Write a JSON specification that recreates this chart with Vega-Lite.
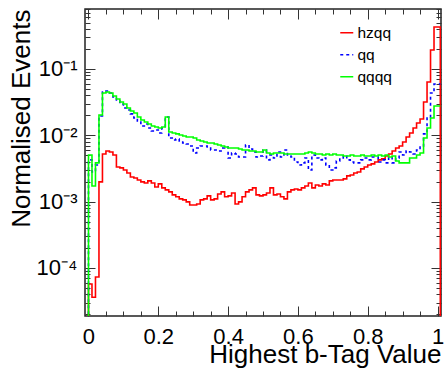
{
  "$schema": "https://vega.github.io/schema/vega-lite/v6.json",
  "width": 356,
  "height": 307,
  "autosize": {"type": "none"},
  "padding": {"left": 85, "top": 9, "right": 4, "bottom": 61},
  "background": "white",
  "data": {
    "values": [
      {"x": -0.01, "hzqq": 1e-7, "qq": 1e-7, "qqqq": 1e-7},
      {"x": 0.00, "hzqq": 5.7e-5, "qq": 0.00425, "qqqq": 0.00505},
      {"x": 0.01, "hzqq": 3.6e-5, "qq": 0.0028, "qqqq": 0.00172},
      {"x": 0.02, "hzqq": 7.3e-5, "qq": 0.00357, "qqqq": 0.00383},
      {"x": 0.03, "hzqq": 0.00198, "qq": 0.0195, "qqqq": 0.0202},
      {"x": 0.04, "hzqq": 0.00523, "qq": 0.045, "qqqq": 0.0435},
      {"x": 0.05, "hzqq": 0.0058, "qq": 0.0466, "qqqq": 0.045},
      {"x": 0.06, "hzqq": 0.0056, "qq": 0.0435, "qqqq": 0.0435},
      {"x": 0.07, "hzqq": 0.00505, "qq": 0.0378, "qqqq": 0.0392},
      {"x": 0.08, "hzqq": 0.00333, "qq": 0.0341, "qqqq": 0.0353},
      {"x": 0.09, "hzqq": 0.00322, "qq": 0.0297, "qqqq": 0.0318},
      {"x": 0.10, "hzqq": 0.003, "qq": 0.0258, "qqqq": 0.0297},
      {"x": 0.11, "hzqq": 0.0027, "qq": 0.0241, "qqqq": 0.0258},
      {"x": 0.12, "hzqq": 0.00235, "qq": 0.021, "qqqq": 0.0233},
      {"x": 0.13, "hzqq": 0.00227, "qq": 0.0182, "qqqq": 0.0217},
      {"x": 0.14, "hzqq": 0.00212, "qq": 0.0164, "qqqq": 0.0189},
      {"x": 0.15, "hzqq": 0.00198, "qq": 0.0138, "qqqq": 0.017},
      {"x": 0.16, "hzqq": 0.00191, "qq": 0.0148, "qqqq": 0.0159},
      {"x": 0.17, "hzqq": 0.00205, "qq": 0.0129, "qqqq": 0.0148},
      {"x": 0.18, "hzqq": 0.00191, "qq": 0.0116, "qqqq": 0.0138},
      {"x": 0.19, "hzqq": 0.00166, "qq": 0.012, "qqqq": 0.0133},
      {"x": 0.20, "hzqq": 0.00185, "qq": 0.0108, "qqqq": 0.0129},
      {"x": 0.21, "hzqq": 0.00161, "qq": 0.0129, "qqqq": 0.0133},
      {"x": 0.22, "hzqq": 0.0015, "qq": 0.0189, "qqqq": 0.0189},
      {"x": 0.23, "hzqq": 0.0014, "qq": 0.0091, "qqqq": 0.0112},
      {"x": 0.24, "hzqq": 0.00126, "qq": 0.00849, "qqqq": 0.0108},
      {"x": 0.25, "hzqq": 0.00118, "qq": 0.00879, "qqqq": 0.0105},
      {"x": 0.26, "hzqq": 0.0011, "qq": 0.0082, "qqqq": 0.0101},
      {"x": 0.27, "hzqq": 0.00106, "qq": 0.00765, "qqqq": 0.00976},
      {"x": 0.28, "hzqq": 0.00099, "qq": 0.00739, "qqqq": 0.00942},
      {"x": 0.29, "hzqq": 0.00089, "qq": 0.0069, "qqqq": 0.00942},
      {"x": 0.30, "hzqq": 0.00089, "qq": 0.00541, "qqqq": 0.0091},
      {"x": 0.31, "hzqq": 0.00092, "qq": 0.00643, "qqqq": 0.00849},
      {"x": 0.32, "hzqq": 0.00106, "qq": 0.0069, "qqqq": 0.0082},
      {"x": 0.33, "hzqq": 0.0011, "qq": 0.0069, "qqqq": 0.00792},
      {"x": 0.34, "hzqq": 0.00122, "qq": 0.00666, "qqqq": 0.00765},
      {"x": 0.35, "hzqq": 0.00106, "qq": 0.006, "qqqq": 0.00765},
      {"x": 0.36, "hzqq": 0.0011, "qq": 0.006, "qqqq": 0.00739},
      {"x": 0.37, "hzqq": 0.0013, "qq": 0.0058, "qqqq": 0.00714},
      {"x": 0.38, "hzqq": 0.0014, "qq": 0.00643, "qqqq": 0.0069},
      {"x": 0.39, "hzqq": 0.00118, "qq": 0.00666, "qqqq": 0.00666},
      {"x": 0.40, "hzqq": 0.00122, "qq": 0.00455, "qqqq": 0.00643},
      {"x": 0.41, "hzqq": 0.00135, "qq": 0.00541, "qqqq": 0.00643},
      {"x": 0.42, "hzqq": 0.00092, "qq": 0.00523, "qqqq": 0.00643},
      {"x": 0.43, "hzqq": 0.00099, "qq": 0.00471, "qqqq": 0.00621},
      {"x": 0.44, "hzqq": 0.00118, "qq": 0.00471, "qqqq": 0.006},
      {"x": 0.45, "hzqq": 0.0014, "qq": 0.00714, "qqqq": 0.006},
      {"x": 0.46, "hzqq": 0.0015, "qq": 0.00621, "qqqq": 0.0058},
      {"x": 0.47, "hzqq": 0.00161, "qq": 0.0056, "qqqq": 0.0058},
      {"x": 0.48, "hzqq": 0.00126, "qq": 0.00471, "qqqq": 0.0056},
      {"x": 0.49, "hzqq": 0.00122, "qq": 0.00488, "qqqq": 0.0056},
      {"x": 0.50, "hzqq": 0.00126, "qq": 0.006, "qqqq": 0.006},
      {"x": 0.51, "hzqq": 0.00135, "qq": 0.00425, "qqqq": 0.00541},
      {"x": 0.52, "hzqq": 0.00161, "qq": 0.00505, "qqqq": 0.00523},
      {"x": 0.53, "hzqq": 0.00126, "qq": 0.00455, "qqqq": 0.00541},
      {"x": 0.54, "hzqq": 0.0013, "qq": 0.0056, "qqqq": 0.00541},
      {"x": 0.55, "hzqq": 0.00118, "qq": 0.00471, "qqqq": 0.00541},
      {"x": 0.56, "hzqq": 0.0011, "qq": 0.006, "qqqq": 0.00523},
      {"x": 0.57, "hzqq": 0.0014, "qq": 0.00488, "qqqq": 0.00523},
      {"x": 0.58, "hzqq": 0.0015, "qq": 0.00471, "qqqq": 0.00523},
      {"x": 0.59, "hzqq": 0.00155, "qq": 0.00396, "qqqq": 0.00523},
      {"x": 0.60, "hzqq": 0.0015, "qq": 0.00357, "qqqq": 0.00523},
      {"x": 0.61, "hzqq": 0.00161, "qq": 0.00383, "qqqq": 0.00523},
      {"x": 0.62, "hzqq": 0.00172, "qq": 0.00455, "qqqq": 0.00541},
      {"x": 0.63, "hzqq": 0.00191, "qq": 0.003, "qqqq": 0.0056},
      {"x": 0.64, "hzqq": 0.00161, "qq": 0.00505, "qqqq": 0.00541},
      {"x": 0.65, "hzqq": 0.00178, "qq": 0.00455, "qqqq": 0.00523},
      {"x": 0.66, "hzqq": 0.00172, "qq": 0.00425, "qqqq": 0.00523},
      {"x": 0.67, "hzqq": 0.00185, "qq": 0.00455, "qqqq": 0.00505},
      {"x": 0.68, "hzqq": 0.00178, "qq": 0.00357, "qqqq": 0.00523},
      {"x": 0.69, "hzqq": 0.00205, "qq": 0.003, "qqqq": 0.00505},
      {"x": 0.70, "hzqq": 0.00212, "qq": 0.00322, "qqqq": 0.00523},
      {"x": 0.71, "hzqq": 0.00212, "qq": 0.0041, "qqqq": 0.00505},
      {"x": 0.72, "hzqq": 0.00212, "qq": 0.00455, "qqqq": 0.00505},
      {"x": 0.73, "hzqq": 0.0022, "qq": 0.00488, "qqqq": 0.00488},
      {"x": 0.74, "hzqq": 0.00244, "qq": 0.00425, "qqqq": 0.00488},
      {"x": 0.75, "hzqq": 0.00252, "qq": 0.00396, "qqqq": 0.00505},
      {"x": 0.76, "hzqq": 0.0027, "qq": 0.00383, "qqqq": 0.00488},
      {"x": 0.77, "hzqq": 0.0028, "qq": 0.00383, "qqqq": 0.00488},
      {"x": 0.78, "hzqq": 0.00311, "qq": 0.00425, "qqqq": 0.00505},
      {"x": 0.79, "hzqq": 0.00333, "qq": 0.00455, "qqqq": 0.00488},
      {"x": 0.80, "hzqq": 0.00357, "qq": 0.00425, "qqqq": 0.00488},
      {"x": 0.81, "hzqq": 0.0037, "qq": 0.00471, "qqqq": 0.00505},
      {"x": 0.82, "hzqq": 0.00396, "qq": 0.00471, "qqqq": 0.00488},
      {"x": 0.83, "hzqq": 0.00425, "qq": 0.00396, "qqqq": 0.00505},
      {"x": 0.84, "hzqq": 0.0044, "qq": 0.00425, "qqqq": 0.00488},
      {"x": 0.85, "hzqq": 0.00488, "qq": 0.00383, "qqqq": 0.00505},
      {"x": 0.86, "hzqq": 0.00523, "qq": 0.00471, "qqqq": 0.00471},
      {"x": 0.87, "hzqq": 0.0058, "qq": 0.00383, "qqqq": 0.00488},
      {"x": 0.88, "hzqq": 0.00643, "qq": 0.00455, "qqqq": 0.0041},
      {"x": 0.89, "hzqq": 0.0069, "qq": 0.0056, "qqqq": 0.00383},
      {"x": 0.90, "hzqq": 0.00792, "qq": 0.00505, "qqqq": 0.00383},
      {"x": 0.91, "hzqq": 0.00942, "qq": 0.0058, "qqqq": 0.00383},
      {"x": 0.92, "hzqq": 0.0108, "qq": 0.0056, "qqqq": 0.00455},
      {"x": 0.93, "hzqq": 0.0129, "qq": 0.00523, "qqqq": 0.00455},
      {"x": 0.94, "hzqq": 0.0153, "qq": 0.006, "qqqq": 0.00505},
      {"x": 0.95, "hzqq": 0.0176, "qq": 0.0069, "qqqq": 0.00541},
      {"x": 0.96, "hzqq": 0.0318, "qq": 0.0105, "qqqq": 0.0091},
      {"x": 0.97, "hzqq": 0.0637, "qq": 0.0182, "qqqq": 0.0129},
      {"x": 0.98, "hzqq": 0.193, "qq": 0.0435, "qqqq": 0.0182},
      {"x": 0.99, "hzqq": 0.43, "qq": 0.0594, "qqqq": 0.0277},
      {"x": 1.00, "hzqq": 0.43, "qq": 0.0594, "qqqq": 0.0277},
      {"x": 1.008, "hzqq": 1e-7, "qq": 0.0594, "qqqq": 0.0277}
    ]
  },
  "transform": [{"fold": ["hzqq", "qq", "qqqq"], "as": ["s", "y"]}],
  "resolve": {"axis": {"x": "independent", "y": "independent"}},
  "layer": [
    {
      "mark": {"type": "line", "interpolate": "step-after", "strokeWidth": 1.6, "clip": true},
      "encoding": {
        "x": {
          "field": "x", "type": "quantitative",
          "scale": {"domain": [-0.01, 1.01], "nice": false, "zero": false},
          "axis": {
            "orient": "bottom", "values": [0, 0.2, 0.4, 0.6, 0.8, 1],
            "ticks": false, "domain": false, "grid": false,
            "labelFontSize": 22, "labelPadding": 10, "labelFlush": false, "labelOverlap": false,
            "labelExpr": "datum.value == 0 ? '0' : datum.value == 1 ? '1' : format(datum.value, '.1f')",
            "title": "Highest b-Tag Value", "titleFontSize": 26, "titleFontWeight": "normal",
            "titleAnchor": "end", "titlePadding": -6
          }
        },
        "y": {
          "field": "y", "type": "quantitative",
          "scale": {"type": "log", "domain": [1.88e-5, 0.803], "nice": false},
          "axis": {
            "orient": "left", "values": [0.0001, 0.001, 0.01, 0.1],
            "ticks": false, "domain": false, "grid": false,
            "labelFontSize": 22, "labelPadding": 8, "labelOverlap": false,
            "labelExpr": "datum.value < 0.0005 ? '10⁻⁴' : datum.value < 0.005 ? '10⁻³' : datum.value < 0.05 ? '10⁻²' : '10⁻¹'",
            "title": "Normalised Events", "titleFontSize": 26, "titleFontWeight": "normal",
            "titleAnchor": "end", "titlePadding": 2
          }
        },
        "color": {
          "field": "s", "type": "nominal",
          "scale": {"domain": ["hzqq", "qq", "qqqq"], "range": ["#ff0000", "#0000ff", "#00ff00"]},
          "legend": {
            "orient": "none", "legendX": 254, "legendY": 16, "title": null,
            "labelFontSize": 15.5, "symbolType": "stroke", "symbolSize": 169,
            "symbolStrokeWidth": 1.6, "rowPadding": 5, "labelOffset": 3, "padding": 0
          }
        },
        "strokeDash": {
          "field": "s", "type": "nominal",
          "scale": {"domain": ["hzqq", "qq", "qqqq"], "range": [[1, 0], [3, 3], [1, 0]]},
          "legend": {
            "orient": "none", "legendX": 254, "legendY": 16, "title": null,
            "labelFontSize": 15.5, "symbolType": "stroke", "symbolSize": 169,
            "symbolStrokeWidth": 1.6, "rowPadding": 5, "labelOffset": 3, "padding": 0
          }
        }
      }
    },
    {
      "mark": {"type": "point", "opacity": 0, "clip": true},
      "encoding": {
        "x": {"field": "x", "type": "quantitative",
          "axis": {"orient": "bottom", "values": [0, 0.2, 0.4, 0.6, 0.8, 1], "labels": false, "domain": false, "grid": false, "tickSize": -10, "tickWidth": 1, "title": null}},
        "y": {"field": "y", "type": "quantitative",
          "axis": {"orient": "left", "values": [0.0001, 0.001, 0.01, 0.1], "labels": false, "domain": false, "grid": false, "tickSize": -10, "tickWidth": 1, "title": null}}
      }
    },
    {
      "mark": {"type": "point", "opacity": 0, "clip": true},
      "encoding": {
        "x": {"field": "x", "type": "quantitative",
          "axis": {"orient": "bottom", "values": [0.05, 0.1, 0.15, 0.25, 0.3, 0.35, 0.45, 0.5, 0.55, 0.65, 0.7, 0.75, 0.85, 0.9, 0.95], "labels": false, "domain": false, "grid": false, "tickSize": -5, "tickWidth": 1, "title": null}},
        "y": {"field": "y", "type": "quantitative",
          "axis": {"orient": "left", "values": [2e-5, 3e-5, 4e-5, 5e-5, 6e-5, 7e-5, 8e-5, 9e-5, 2e-4, 3e-4, 4e-4, 5e-4, 6e-4, 7e-4, 8e-4, 9e-4, 0.002, 0.003, 0.004, 0.005, 0.006, 0.007, 0.008, 0.009, 0.02, 0.03, 0.04, 0.05, 0.06, 0.07, 0.08, 0.09, 0.2, 0.3, 0.4, 0.5, 0.6, 0.7, 0.8], "labels": false, "domain": false, "grid": false, "tickSize": -5, "tickWidth": 1, "title": null}}
      }
    },
    {
      "mark": {"type": "point", "opacity": 0, "clip": true},
      "encoding": {
        "x": {"field": "x", "type": "quantitative",
          "axis": {"orient": "top", "values": [0, 0.2, 0.4, 0.6, 0.8, 1], "labels": false, "domain": false, "grid": false, "tickSize": -10, "tickWidth": 1, "title": null}},
        "y": {"field": "y", "type": "quantitative",
          "axis": {"orient": "right", "values": [0.0001, 0.001, 0.01, 0.1], "labels": false, "domain": false, "grid": false, "tickSize": -10, "tickWidth": 1, "title": null}}
      }
    },
    {
      "mark": {"type": "point", "opacity": 0, "clip": true},
      "encoding": {
        "x": {"field": "x", "type": "quantitative",
          "axis": {"orient": "top", "values": [0.05, 0.1, 0.15, 0.25, 0.3, 0.35, 0.45, 0.5, 0.55, 0.65, 0.7, 0.75, 0.85, 0.9, 0.95], "labels": false, "domain": false, "grid": false, "tickSize": -5, "tickWidth": 1, "title": null}},
        "y": {"field": "y", "type": "quantitative",
          "axis": {"orient": "right", "values": [2e-5, 3e-5, 4e-5, 5e-5, 6e-5, 7e-5, 8e-5, 9e-5, 2e-4, 3e-4, 4e-4, 5e-4, 6e-4, 7e-4, 8e-4, 9e-4, 0.002, 0.003, 0.004, 0.005, 0.006, 0.007, 0.008, 0.009, 0.02, 0.03, 0.04, 0.05, 0.06, 0.07, 0.08, 0.09, 0.2, 0.3, 0.4, 0.5, 0.6, 0.7, 0.8], "labels": false, "domain": false, "grid": false, "tickSize": -5, "tickWidth": 1, "title": null}}
      }
    }
  ],
  "config": {
    "view": {"stroke": "#222222", "strokeWidth": 1.5},
    "font": "Liberation Sans",
    "axis": {"labelFont": "Liberation Sans", "titleFont": "Liberation Sans", "labelColor": "#000000", "titleColor": "#000000", "tickColor": "#333333"},
    "legend": {"labelFont": "Liberation Sans", "labelColor": "#000000"}
  }
}
